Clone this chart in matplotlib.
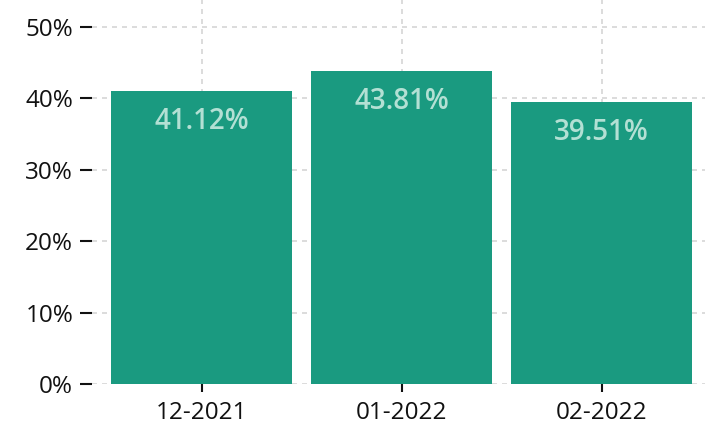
import matplotlib
matplotlib.use("Agg")
import matplotlib.pyplot as plt
from matplotlib.ticker import FuncFormatter

categories = ["12-2021", "01-2022", "02-2022"]
values = [41.12, 43.81, 39.51]
yticks = [0, 10, 20, 30, 40, 50]

plt.rcParams['font.family'] = ['Open Sans', 'DejaVu Sans']

fig = plt.figure(figsize=(7.05, 4.26), dpi=100)
ax = fig.add_axes([92/705, 1 - 384/426, (705-92)/705, 384/426])

x = range(len(categories))
bars = ax.bar(x, values, width=0.905, color="#1a9a80", zorder=2)
for xi, v in zip(x, values):
    ax.annotate(f"{v:.2f}%", (xi, v), xytext=(0, -22), textcoords="offset points",
                ha="center", va="center", color="#b3e0d4", fontsize=20,
                fontweight="semibold", zorder=3)

ax.set_xlim(-0.5475, 2.5175)
ax.set_ylim(0, 53.8)
ax.set_yticks(yticks)
ax.yaxis.set_major_formatter(FuncFormatter(lambda v, p: f"{v:.0f}%"))
ax.set_xticks(list(x))
ax.set_xticklabels(categories)
ax.tick_params(axis="y", length=8.5, width=1.5, pad=5, labelsize=17.5, colors="#111111")
ax.tick_params(axis="x", length=6, width=1.5, pad=6.5, labelsize=17.5, colors="#111111")
ax.grid(True, linestyle=(0, (3, 3)), color="#d6d6d6", linewidth=1.2, zorder=0)
ax.set_axisbelow(True)
for s in ax.spines.values():
    s.set_visible(False)

fig.savefig("out.png", dpi=100)
